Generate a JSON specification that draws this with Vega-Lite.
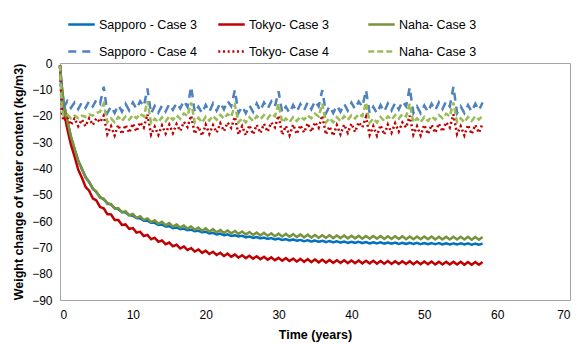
{
"$schema": "https://vega.github.io/schema/vega-lite/v6.json",
"width": 510, "height": 237,
"autosize": "none",
"padding": {"left": 60, "top": 63, "right": 9, "bottom": 44},
"background": "white",
"config": {"font": "Liberation Sans", "view": {"stroke": "#A6A6A6", "strokeWidth": 1}},
"data": {"values": [
{"t":0,"S3":-1,"T3":-1,"N3":-1,"S4":-1,"T4":-1,"N4":-1},
{"t":0.25,"S3":-9,"T3":-12,"N3":-9,"S4":-13,"T4":-19,"N4":-17},
{"t":0.5,"S3":-15,"T3":-18,"N3":-15,"S4":-17,"T4":-22,"N4":-20},
{"t":1,"S3":-22,"T3":-25,"N3":-22,"S4":-14.5,"T4":-20.5,"N4":-19.5},
{"t":1.5,"S3":-28,"T3":-31,"N3":-28,"S4":-17,"T4":-23.5,"N4":-21},
{"t":2,"S3":-32.8,"T3":-35.5,"N3":-32.5,"S4":-15,"T4":-21,"N4":-20},
{"t":2.5,"S3":-37,"T3":-40.5,"N3":-37.3,"S4":-17.5,"T4":-24,"N4":-21},
{"t":3,"S3":-40.3,"T3":-43.5,"N3":-40,"S4":-15,"T4":-21.5,"N4":-20},
{"t":3.5,"S3":-43.2,"T3":-47,"N3":-43.5,"S4":-17,"T4":-24,"N4":-20.5},
{"t":4,"S3":-45.3,"T3":-48.5,"N3":-45,"S4":-14.5,"T4":-21,"N4":-19.5},
{"t":4.5,"S3":-47.6,"T3":-51.4,"N3":-47.9,"S4":-16.5,"T4":-23.5,"N4":-20},
{"t":5,"S3":-49.1,"T3":-52.2,"N3":-48.8,"S4":-14,"T4":-21,"N4":-19},
{"t":5.5,"S3":-50.9,"T3":-54.7,"N3":-51.2,"S4":-15.5,"T4":-22.5,"N4":-18.5},
{"t":6,"S3":-51.8,"T3":-55.2,"N3":-51.5,"S4":-9,"T4":-20,"N4":-15.5},
{"t":6.5,"S3":-53.2,"T3":-57.4,"N3":-53.5,"S4":-19,"T4":-27,"N4":-22.5},
{"t":7,"S3":-53.8,"T3":-57.5,"N3":-53.5,"S4":-16.5,"T4":-24,"N4":-21},
{"t":7.5,"S3":-55.1,"T3":-59.6,"N3":-55.3,"S4":-19,"T4":-27.5,"N4":-22.5},
{"t":8,"S3":-55.5,"T3":-59.6,"N3":-55.1,"S4":-16,"T4":-23.5,"N4":-20.5},
{"t":8.5,"S3":-56.6,"T3":-61.5,"N3":-56.7,"S4":-18.5,"T4":-27,"N4":-22},
{"t":9,"S3":-56.8,"T3":-61.3,"N3":-56.3,"S4":-15.5,"T4":-23.5,"N4":-20.3},
{"t":9.5,"S3":-57.8,"T3":-63,"N3":-57.8,"S4":-18,"T4":-26.5,"N4":-21.5},
{"t":10,"S3":-58,"T3":-62.7,"N3":-57.3,"S4":-15,"T4":-23,"N4":-19.8},
{"t":10.5,"S3":-58.9,"T3":-64.4,"N3":-58.8,"S4":-17.5,"T4":-26,"N4":-21},
{"t":11,"S3":-59,"T3":-64.1,"N3":-58.2,"S4":-14.5,"T4":-22.5,"N4":-19.3},
{"t":11.5,"S3":-59.9,"T3":-65.7,"N3":-59.6,"S4":-16.5,"T4":-24.5,"N4":-20.3},
{"t":12,"S3":-59.9,"T3":-65.3,"N3":-59,"S4":-9.7,"T4":-19.5,"N4":-14.5},
{"t":12.5,"S3":-60.7,"T3":-66.9,"N3":-60.4,"S4":-19.2,"T4":-27.2,"N4":-22.8},
{"t":13,"S3":-60.7,"T3":-66.4,"N3":-59.7,"S4":-16.3,"T4":-24.2,"N4":-21.2},
{"t":13.5,"S3":-61.5,"T3":-67.9,"N3":-61,"S4":-18.8,"T4":-27.3,"N4":-22.4},
{"t":14,"S3":-61.4,"T3":-67.4,"N3":-60.3,"S4":-16.2,"T4":-23.7,"N4":-20.6},
{"t":14.5,"S3":-62.1,"T3":-68.8,"N3":-61.6,"S4":-18.4,"T4":-26.8,"N4":-22.1},
{"t":15,"S3":-62,"T3":-68.2,"N3":-60.8,"S4":-15.6,"T4":-23.4,"N4":-20.2},
{"t":15.5,"S3":-62.7,"T3":-69.6,"N3":-62.1,"S4":-17.8,"T4":-26.6,"N4":-21.6},
{"t":16,"S3":-62.5,"T3":-69,"N3":-61.3,"S4":-15.2,"T4":-23.2,"N4":-19.9},
{"t":16.5,"S3":-63.1,"T3":-70.4,"N3":-62.5,"S4":-17.3,"T4":-25.8,"N4":-21.2},
{"t":17,"S3":-62.9,"T3":-69.7,"N3":-61.7,"S4":-14.3,"T4":-22.4,"N4":-19.2},
{"t":17.5,"S3":-63.5,"T3":-71,"N3":-62.9,"S4":-16.7,"T4":-24.3,"N4":-20.1},
{"t":18,"S3":-63.3,"T3":-70.3,"N3":-62.1,"S4":-9,"T4":-20,"N4":-15},
{"t":18.5,"S3":-63.9,"T3":-71.6,"N3":-63.3,"S4":-18.8,"T4":-26.9,"N4":-22.6},
{"t":19,"S3":-63.7,"T3":-70.8,"N3":-62.5,"S4":-16.6,"T4":-24.1,"N4":-20.8},
{"t":19.5,"S3":-64.3,"T3":-72.1,"N3":-63.7,"S4":-19.1,"T4":-27.6,"N4":-22.6},
{"t":20,"S3":-64.1,"T3":-71.3,"N3":-62.8,"S4":-15.9,"T4":-23.4,"N4":-20.4},
{"t":20.5,"S3":-64.7,"T3":-72.5,"N3":-64,"S4":-18.6,"T4":-26.9,"N4":-21.9},
{"t":21,"S3":-64.5,"T3":-71.7,"N3":-63.1,"S4":-15.4,"T4":-23.6,"N4":-20.1},
{"t":21.5,"S3":-65.1,"T3":-72.9,"N3":-64.3,"S4":-18.1,"T4":-26.4,"N4":-21.6},
{"t":22,"S3":-64.8,"T3":-72.1,"N3":-63.4,"S4":-15.1,"T4":-22.9,"N4":-19.7},
{"t":22.5,"S3":-65.4,"T3":-73.3,"N3":-64.5,"S4":-17.6,"T4":-25.9,"N4":-21.1},
{"t":23,"S3":-65.1,"T3":-72.4,"N3":-63.6,"S4":-14.4,"T4":-22.6,"N4":-19.4},
{"t":23.5,"S3":-65.7,"T3":-73.6,"N3":-64.7,"S4":-16.4,"T4":-24.6,"N4":-20.4},
{"t":24,"S3":-65.4,"T3":-72.7,"N3":-63.8,"S4":-10.3,"T4":-20.5,"N4":-16},
{"t":24.5,"S3":-65.9,"T3":-73.9,"N3":-64.9,"S4":-19,"T4":-27.1,"N4":-22.5},
{"t":25,"S3":-65.6,"T3":-73,"N3":-64,"S4":-16.5,"T4":-24,"N4":-21},
{"t":25.5,"S3":-66.2,"T3":-74.1,"N3":-65.1,"S4":-19.1,"T4":-27.4,"N4":-22.6},
{"t":26,"S3":-65.9,"T3":-73.2,"N3":-64.2,"S4":-16.1,"T4":-23.6,"N4":-20.6},
{"t":26.5,"S3":-66.4,"T3":-74.3,"N3":-65.3,"S4":-18.6,"T4":-27.1,"N4":-22.1},
{"t":27,"S3":-66.1,"T3":-73.4,"N3":-64.4,"S4":-15.4,"T4":-23.5,"N4":-20.2},
{"t":27.5,"S3":-66.6,"T3":-74.5,"N3":-65.5,"S4":-18.2,"T4":-26.6,"N4":-21.4},
{"t":28,"S3":-66.3,"T3":-73.6,"N3":-64.5,"S4":-15,"T4":-23.1,"N4":-19.8},
{"t":28.5,"S3":-66.8,"T3":-74.7,"N3":-65.6,"S4":-17.4,"T4":-26.1,"N4":-21.1},
{"t":29,"S3":-66.5,"T3":-73.8,"N3":-64.7,"S4":-14.6,"T4":-22.6,"N4":-19.3},
{"t":29.5,"S3":-67,"T3":-74.9,"N3":-65.8,"S4":-16.6,"T4":-24.4,"N4":-20.2},
{"t":30,"S3":-66.7,"T3":-74,"N3":-64.8,"S4":-10.7,"T4":-20,"N4":-15.5},
{"t":30.5,"S3":-67.2,"T3":-75.1,"N3":-65.9,"S4":-18.9,"T4":-27.2,"N4":-22.6},
{"t":31,"S3":-66.9,"T3":-74.1,"N3":-64.9,"S4":-16.6,"T4":-23.9,"N4":-21.1},
{"t":31.5,"S3":-67.4,"T3":-75.2,"N3":-66,"S4":-19,"T4":-27.5,"N4":-22.4},
{"t":32,"S3":-67,"T3":-74.3,"N3":-65,"S4":-16,"T4":-23.4,"N4":-20.6},
{"t":32.5,"S3":-67.5,"T3":-75.4,"N3":-66.1,"S4":-18.5,"T4":-27,"N4":-22},
{"t":33,"S3":-67.2,"T3":-74.4,"N3":-65.1,"S4":-15.6,"T4":-23.6,"N4":-20.4},
{"t":33.5,"S3":-67.7,"T3":-75.5,"N3":-66.2,"S4":-18,"T4":-26.4,"N4":-21.5},
{"t":34,"S3":-67.3,"T3":-74.5,"N3":-65.2,"S4":-15,"T4":-22.9,"N4":-19.9},
{"t":34.5,"S3":-67.8,"T3":-75.6,"N3":-66.3,"S4":-17.5,"T4":-26.1,"N4":-21},
{"t":35,"S3":-67.4,"T3":-74.6,"N3":-65.3,"S4":-14.4,"T4":-22.5,"N4":-19.3},
{"t":35.5,"S3":-67.9,"T3":-75.7,"N3":-66.4,"S4":-16.5,"T4":-24.6,"N4":-20.3},
{"t":36,"S3":-67.5,"T3":-74.7,"N3":-65.4,"S4":-10.3,"T4":-20,"N4":-15.5},
{"t":36.5,"S3":-68,"T3":-75.8,"N3":-66.4,"S4":-19.1,"T4":-27.1,"N4":-22.6},
{"t":37,"S3":-67.6,"T3":-74.8,"N3":-65.4,"S4":-16.4,"T4":-24.1,"N4":-20.9},
{"t":37.5,"S3":-68.1,"T3":-75.9,"N3":-66.5,"S4":-19,"T4":-27.6,"N4":-22.5},
{"t":38,"S3":-67.7,"T3":-74.9,"N3":-65.5,"S4":-16.2,"T4":-23.6,"N4":-20.6},
{"t":38.5,"S3":-68.2,"T3":-75.9,"N3":-66.5,"S4":-18.5,"T4":-27.1,"N4":-22.1},
{"t":39,"S3":-67.8,"T3":-74.9,"N3":-65.5,"S4":-15.5,"T4":-23.4,"N4":-20.2},
{"t":39.5,"S3":-68.3,"T3":-76,"N3":-66.6,"S4":-18.1,"T4":-26.5,"N4":-21.6},
{"t":40,"S3":-67.9,"T3":-75,"N3":-65.6,"S4":-15.1,"T4":-23,"N4":-19.9},
{"t":40.5,"S3":-68.3,"T3":-76,"N3":-66.6,"S4":-17.5,"T4":-26.2,"N4":-21.1},
{"t":41,"S3":-67.9,"T3":-75,"N3":-65.6,"S4":-14.6,"T4":-22.5,"N4":-19.4},
{"t":41.5,"S3":-68.4,"T3":-76.1,"N3":-66.7,"S4":-16.6,"T4":-24.4,"N4":-20.2},
{"t":42,"S3":-68,"T3":-75.1,"N3":-65.7,"S4":-10.3,"T4":-20.5,"N4":-15},
{"t":42.5,"S3":-68.5,"T3":-76.1,"N3":-66.7,"S4":-19.1,"T4":-27.3,"N4":-22.7},
{"t":43,"S3":-68.1,"T3":-75.1,"N3":-65.7,"S4":-16.6,"T4":-24,"N4":-21.1},
{"t":43.5,"S3":-68.5,"T3":-76.2,"N3":-66.7,"S4":-19.1,"T4":-27.6,"N4":-22.6},
{"t":44,"S3":-68.1,"T3":-75.2,"N3":-65.7,"S4":-16,"T4":-23.6,"N4":-20.5},
{"t":44.5,"S3":-68.6,"T3":-76.2,"N3":-66.8,"S4":-18.5,"T4":-27.2,"N4":-22},
{"t":45,"S3":-68.2,"T3":-75.2,"N3":-65.8,"S4":-15.4,"T4":-23.4,"N4":-20.3},
{"t":45.5,"S3":-68.6,"T3":-76.3,"N3":-66.8,"S4":-18,"T4":-26.5,"N4":-21.5},
{"t":46,"S3":-68.2,"T3":-75.3,"N3":-65.8,"S4":-15.1,"T4":-22.9,"N4":-19.8},
{"t":46.5,"S3":-68.7,"T3":-76.3,"N3":-66.8,"S4":-17.6,"T4":-26,"N4":-21.1},
{"t":47,"S3":-68.3,"T3":-75.3,"N3":-65.8,"S4":-14.5,"T4":-22.6,"N4":-19.4},
{"t":47.5,"S3":-68.7,"T3":-76.3,"N3":-66.9,"S4":-16.4,"T4":-24.5,"N4":-20.3},
{"t":48,"S3":-68.3,"T3":-75.3,"N3":-65.9,"S4":-9.3,"T4":-20,"N4":-15.5},
{"t":48.5,"S3":-68.7,"T3":-76.4,"N3":-66.9,"S4":-19,"T4":-27.2,"N4":-22.5},
{"t":49,"S3":-68.3,"T3":-75.4,"N3":-65.9,"S4":-16.5,"T4":-24,"N4":-21},
{"t":49.5,"S3":-68.8,"T3":-76.4,"N3":-66.9,"S4":-19.1,"T4":-27.5,"N4":-22.5},
{"t":50,"S3":-68.4,"T3":-75.4,"N3":-65.9,"S4":-16.1,"T4":-23.5,"N4":-20.5},
{"t":50.5,"S3":-68.8,"T3":-76.4,"N3":-66.9,"S4":-18.6,"T4":-27,"N4":-22},
{"t":51,"S3":-68.4,"T3":-75.4,"N3":-65.9,"S4":-15.5,"T4":-23.5,"N4":-20.3},
{"t":51.5,"S3":-68.8,"T3":-76.5,"N3":-67,"S4":-18,"T4":-26.5,"N4":-21.5},
{"t":52,"S3":-68.4,"T3":-75.5,"N3":-66,"S4":-15,"T4":-23,"N4":-19.8},
{"t":52.5,"S3":-68.9,"T3":-76.5,"N3":-67,"S4":-17.5,"T4":-26,"N4":-21},
{"t":53,"S3":-68.5,"T3":-75.5,"N3":-66,"S4":-14.5,"T4":-22.5,"N4":-19.3},
{"t":53.5,"S3":-68.9,"T3":-76.5,"N3":-67,"S4":-16.5,"T4":-24.5,"N4":-20.3},
{"t":54,"S3":-68.5,"T3":-75.5,"N3":-66,"S4":-9,"T4":-19.5,"N4":-15},
{"t":54.5,"S3":-68.9,"T3":-76.5,"N3":-67,"S4":-19,"T4":-27,"N4":-22.5},
{"t":55,"S3":-68.5,"T3":-75.5,"N3":-66,"S4":-16.5,"T4":-24,"N4":-21},
{"t":55.5,"S3":-68.9,"T3":-76.6,"N3":-67,"S4":-19,"T4":-27.5,"N4":-22.5},
{"t":56,"S3":-68.5,"T3":-75.6,"N3":-66,"S4":-16,"T4":-23.5,"N4":-20.5},
{"t":56.5,"S3":-69,"T3":-76.6,"N3":-67.1,"S4":-18.5,"T4":-27,"N4":-22},
{"t":57,"S3":-68.6,"T3":-75.6,"N3":-66.1,"S4":-15.5,"T4":-23.5,"N4":-20.3},
{"t":57.5,"S3":-69,"T3":-76.6,"N3":-67.1,"S4":-18,"T4":-26.5,"N4":-21.5},
{"t":58,"S3":-68.6,"T3":-75.6,"N3":-66.1,"S4":-15,"T4":-23,"N4":-20}
]},
"transform": [{"fold": ["S3","T3","N3","S4","T4","N4"], "as": ["series","v"]}],
"mark": {"type": "line", "strokeWidth": 2.5},
"encoding": {
  "x": {"field": "t", "type": "quantitative",
    "scale": {"domain": [0, 70], "nice": false},
    "axis": {"values": [0,10,20,30,40,50,60,70], "title": "Time (years)", "grid": false, "ticks": false,
      "domainColor": "#A6A6A6", "labelFontSize": 12, "labelColor": "#000000", "labelPadding": 9,
      "titleFontSize": 12.5, "titleFontWeight": "bold", "titleColor": "#000000", "titlePadding": 8}},
  "y": {"field": "v", "type": "quantitative",
    "scale": {"domain": [-90, 0], "nice": false},
    "axis": {"values": [0,-10,-20,-30,-40,-50,-60,-70,-80,-90], "title": "Weight change of water content (kg/m3)", "grid": false, "ticks": false,
      "domainColor": "#A6A6A6", "labelFontSize": 12, "labelColor": "#000000", "labelPadding": 8,
      "titleFontSize": 12.5, "titleFontWeight": "bold", "titleColor": "#000000", "titlePadding": 6}},
  "color": {"field": "series", "type": "nominal",
    "scale": {"domain": ["S3","T3","N3","S4","T4","N4"], "range": ["#0070C0","#C00000","#77933C","#4F81BD","#C00000","#9BBB59"]},
    "legend": {"orient": "none", "direction": "horizontal", "legendX": 7, "legendY": -53, "columns": 3, "title": null,
      "symbolType": "stroke", "symbolSize": 700, "symbolStrokeWidth": 2.5, "gridAlign": "all",
      "columnPadding": 16, "rowPadding": 6, "labelOffset": 3, "labelFontSize": 12.5, "labelColor": "#000000",
      "labelExpr": "datum.value == 'S3' ? 'Sapporo - Case 3' : datum.value == 'T3' ? 'Tokyo- Case 3' : datum.value == 'N3' ? 'Naha- Case 3' : datum.value == 'S4' ? 'Sapporo - Case 4' : datum.value == 'T4' ? 'Tokyo- Case 4' : 'Naha- Case 3'"}},
  "strokeDash": {"field": "series", "type": "nominal",
    "scale": {"domain": ["S3","T3","N3","S4","T4","N4"], "range": [[1,0],[1,0],[1,0],[8,6],[2,2.7],[6,3]]},
    "legend": {"orient": "none", "direction": "horizontal", "legendX": 7, "legendY": -53, "columns": 3, "title": null,
      "symbolType": "stroke", "symbolSize": 700, "symbolStrokeWidth": 2.5, "gridAlign": "all",
      "columnPadding": 16, "rowPadding": 6, "labelOffset": 3, "labelFontSize": 12.5, "labelColor": "#000000",
      "labelExpr": "datum.value == 'S3' ? 'Sapporo - Case 3' : datum.value == 'T3' ? 'Tokyo- Case 3' : datum.value == 'N3' ? 'Naha- Case 3' : datum.value == 'S4' ? 'Sapporo - Case 4' : datum.value == 'T4' ? 'Tokyo- Case 4' : 'Naha- Case 3'"}}
}
}
